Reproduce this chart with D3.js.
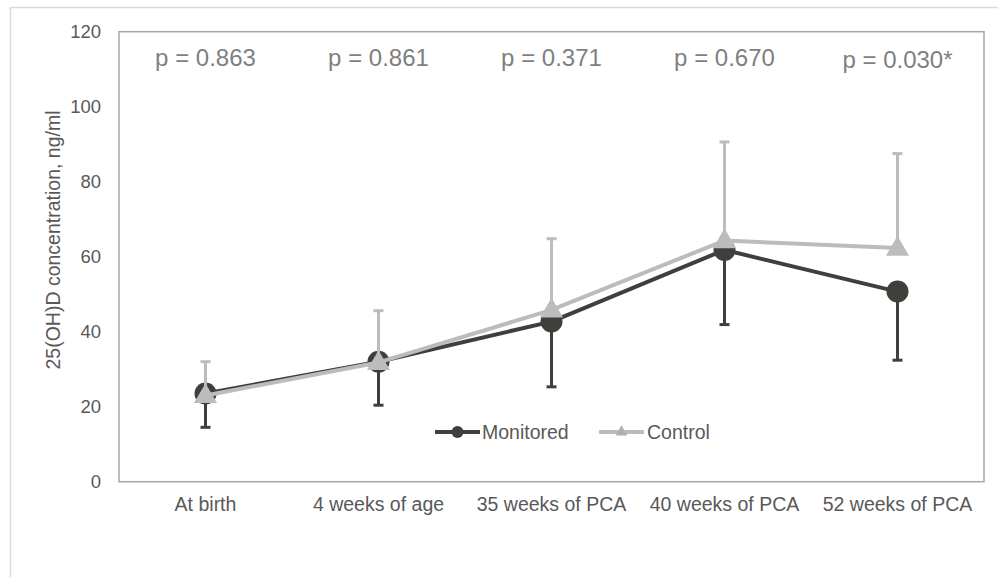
<!DOCTYPE html>
<html><head><meta charset="utf-8">
<script src="https://cdnjs.cloudflare.com/ajax/libs/d3/7.8.5/d3.min.js"></script>
<style>body{margin:0;background:#fff;}svg{display:block;font-family:"Liberation Sans",Arial,sans-serif;}</style>
</head><body><svg id="c" width="998" height="577"></svg>
<script>
const categories = ["At birth","4 weeks of age","35 weeks of PCA","40 weeks of PCA","52 weeks of PCA"];
const monitored = [23.5, 32.0, 42.7, 61.8, 50.7];
const monitoredSD = [9.0, 11.6, 17.4, 19.9, 18.3];   // drawn downward
const control = [23.0, 31.8, 45.8, 64.3, 62.3];
const controlSD = [9.0, 13.8, 19.0, 26.3, 25.2];     // drawn upward
const pLabels = ["p = 0.863","p = 0.861","p = 0.371","p = 0.670","p = 0.030*"];
const yTicks = [0,20,40,60,80,100,120];

const svg = d3.select("#c");
const L = 119, R = 984, T = 31.7, B = 481.7;
const x = d3.scaleBand().domain(categories).range([L, R]).padding(0);
const y = d3.scaleLinear().domain([0,120]).range([B, T]);
const cx = c => x(c) + x.bandwidth()/2;
const FF = "Liberation Sans, Arial, sans-serif";

// outer frame
svg.append("rect").attr("x",10.5).attr("y",7.5).attr("width",1000).attr("height",600)
  .attr("fill","none").attr("stroke","#d9d9d9").attr("stroke-width",1.5);

// plot frame
svg.append("rect").attr("x",L).attr("y",T).attr("width",R-L).attr("height",B-T)
  .attr("fill","none").attr("stroke","#a6a6a6").attr("stroke-width",1.5);

// y axis
const ya = svg.append("g").attr("transform",`translate(${L},0)`)
  .call(d3.axisLeft(y).tickValues(yTicks).tickSize(0).tickPadding(18));
ya.select(".domain").remove();
ya.selectAll("text").attr("font-size",18.5).attr("fill","#595959").attr("font-family",FF);

// x axis
const xa = svg.append("g").attr("transform",`translate(0,${B})`)
  .call(d3.axisBottom(x).tickSize(0).tickPadding(15.5));
xa.select(".domain").remove();
xa.selectAll("text").attr("font-size",19.5).attr("fill","#595959").attr("font-family",FF);

// y title
svg.append("text").attr("transform","translate(60,240) rotate(-90)")
  .attr("text-anchor","middle").attr("font-size",19.5).attr("fill","#595959")
  .text("25(OH)D concentration, ng/ml");

// p labels
svg.append("g").selectAll("text").data(pLabels).join("text")
  .attr("x",(d,i)=>cx(categories[i])).attr("y",(d,i)=> i===4 ? 68 : 66)
  .attr("text-anchor","middle").attr("font-size",24).attr("fill","#7f7f7f")
  .text(d=>d);

const dark = "#3f3f3c", light = "#bcbcbc";
const line = d3.line().x((d,i)=>cx(categories[i])).y(d=>y(d));

// Monitored series
const gm = svg.append("g");
gm.selectAll("line.eb").data(monitored).join("line").attr("class","eb")
  .attr("x1",(d,i)=>cx(categories[i])).attr("x2",(d,i)=>cx(categories[i]))
  .attr("y1",d=>y(d)).attr("y2",(d,i)=>y(d-monitoredSD[i]))
  .attr("stroke",dark).attr("stroke-width",3);
gm.selectAll("line.cap").data(monitored).join("line").attr("class","cap")
  .attr("x1",(d,i)=>cx(categories[i])-5).attr("x2",(d,i)=>cx(categories[i])+5)
  .attr("y1",(d,i)=>y(d-monitoredSD[i])).attr("y2",(d,i)=>y(d-monitoredSD[i]))
  .attr("stroke",dark).attr("stroke-width",3);
gm.append("path").datum(monitored).attr("d",line).attr("fill","none")
  .attr("stroke",dark).attr("stroke-width",4).attr("stroke-linejoin","round");
gm.selectAll("circle").data(monitored).join("circle")
  .attr("cx",(d,i)=>cx(categories[i])).attr("cy",d=>y(d)).attr("r",11).attr("fill",dark);

// Control series
const tri = d3.symbol().type(d3.symbolTriangle).size(230);
const gc = svg.append("g");
gc.selectAll("line.eb").data(control).join("line").attr("class","eb")
  .attr("x1",(d,i)=>cx(categories[i])).attr("x2",(d,i)=>cx(categories[i]))
  .attr("y1",d=>y(d)).attr("y2",(d,i)=>y(d+controlSD[i]))
  .attr("stroke",light).attr("stroke-width",3);
gc.selectAll("line.cap").data(control).join("line").attr("class","cap")
  .attr("x1",(d,i)=>cx(categories[i])-5).attr("x2",(d,i)=>cx(categories[i])+5)
  .attr("y1",(d,i)=>y(d+controlSD[i])).attr("y2",(d,i)=>y(d+controlSD[i]))
  .attr("stroke",light).attr("stroke-width",3);
gc.append("path").datum(control).attr("d",line).attr("fill","none")
  .attr("stroke",light).attr("stroke-width",4).attr("stroke-linejoin","round");
gc.selectAll("path.m").data(control).join("path").attr("class","m")
  .attr("d",tri).attr("transform",(d,i)=>`translate(${cx(categories[i])},${y(d)+1})`)
  .attr("fill",light);

// legend
const lg = svg.append("g");
lg.append("line").attr("x1",435).attr("x2",480).attr("y1",432).attr("y2",432).attr("stroke",dark).attr("stroke-width",4);
lg.append("circle").attr("cx",457.5).attr("cy",432).attr("r",6).attr("fill",dark);
lg.append("text").attr("x",482).attr("y",439).attr("font-size",19.5).attr("fill","#595959").text("Monitored");
lg.append("line").attr("x1",599).attr("x2",644).attr("y1",432).attr("y2",432).attr("stroke",light).attr("stroke-width",4);
lg.append("path").attr("d",d3.symbol().type(d3.symbolTriangle).size(60)).attr("transform","translate(621.5,432)").attr("fill","#b0b0b0");
lg.append("text").attr("x",647).attr("y",439).attr("font-size",19.5).attr("fill","#595959").text("Control");
</script></body></html>
